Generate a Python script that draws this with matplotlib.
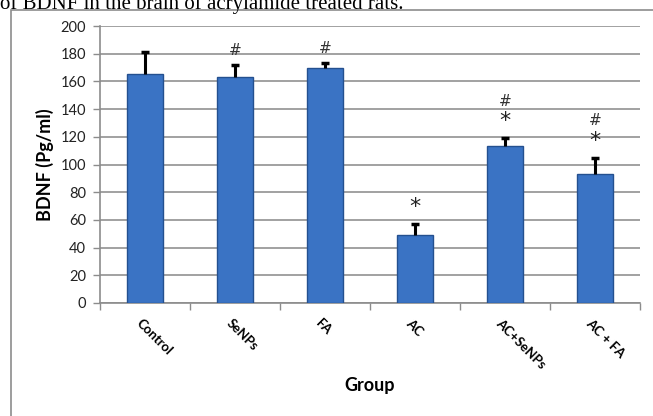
import matplotlib.pyplot as plt
from matplotlib.patches import Rectangle
from matplotlib.transforms import ScaledTranslation

groups = ["Control", "SeNPs", "FA", "AC", "AC+SeNPs", "AC + FA"]
bdnf = [165, 163, 170, 49, 113, 93]
err = [16, 9, 3, 8, 6, 12]
hash_mark = [False, True, True, False, True, True]
star_mark = [False, False, False, True, True, True]
yticks = [0, 20, 40, 60, 80, 100, 120, 140, 160, 180, 200]

W, H = 653, 416
fig = plt.figure(figsize=(W / 100, H / 100), dpi=100)
fig.patch.set_facecolor("white")

# outer chart frame (right/bottom cut off by the crop)
fig.add_artist(Rectangle((11 / W, -0.1), 1.2, 1 - 10 / H + 0.1, transform=fig.transFigure,
                         fill=False, edgecolor="#8c8c8c", linewidth=1.2))

# caption line cut off at the top
fig.text(0.0, 1 - 9 / H, "of BDNF in the brain of acrylamide treated rats.",
         family="Liberation Serif", fontsize=15, va="baseline", ha="left")

ax = fig.add_axes([100 / W, 1 - 303 / H, 540 / W, 277 / H])
x = list(range(len(groups)))
ax.bar(x, bdnf, width=0.4, color="#3a73c4", edgecolor="#24508f", linewidth=1, zorder=3)

# upper error bars only
tops = [b + e for b, e in zip(bdnf, err)]
ax.vlines(x, bdnf, tops, color="black", linewidth=2.2, zorder=4)
ax.hlines(tops, [i - 0.045 for i in x], [i + 0.045 for i in x], color="black",
          linewidth=2.5, zorder=4)

# significance marks: * just above the error bar, # above that
for i in x:
    y = tops[i] + 5
    if star_mark[i]:
        ax.text(i, y, "*", ha="center", va="bottom", fontsize=16,
                family="DejaVu Sans", color="#222222")
        y += 16
    if hash_mark[i]:
        ax.text(i, y, "#", ha="center", va="bottom", fontsize=11,
                family="DejaVu Sans", color="#333333")

ax.set_xlim(-0.5, len(groups) - 0.5)
ax.set_ylim(0, 200)
ax.set_yticks(yticks)
ax.yaxis.grid(True, color="#9a9a9a", linewidth=1.3, zorder=0)
ax.set_axisbelow(True)
ax.tick_params(axis="y", labelsize=10.5, length=5, width=1, color="#8c8c8c", pad=5)
for lab in ax.get_yticklabels():
    lab.set_family("Lato")
    lab.set_color("#222222")

ax.set_xticks(x)
ax.set_xticks([i - 0.5 for i in range(len(groups) + 1)], minor=True)
ax.tick_params(axis="x", which="major", length=0, pad=13)
ax.tick_params(axis="x", which="minor", length=5, width=1, color="#8c8c8c")
ax.set_xticklabels(groups, rotation=-45, ha="left", va="center",
                   rotation_mode="anchor", fontsize=9.5, fontweight="bold", family="Lato")
shift = ScaledTranslation(-7 / 100, 0, fig.dpi_scale_trans)
for lab in ax.get_xticklabels():
    lab.set_transform(lab.get_transform() + shift)

for side in ["top", "right"]:
    ax.spines[side].set_visible(False)
for side in ["left", "bottom"]:
    ax.spines[side].set_color("#8c8c8c")
    ax.spines[side].set_linewidth(1.2)

ax.set_ylabel("BDNF (Pg/ml)", fontsize=13, fontweight="bold", family="Lato", labelpad=5)
fig.text(370 / W, 1 - 385 / H, "Group", fontsize=13, fontweight="bold",
         family="Lato", ha="center", va="center")

fig.savefig("out.png", dpi=100)
